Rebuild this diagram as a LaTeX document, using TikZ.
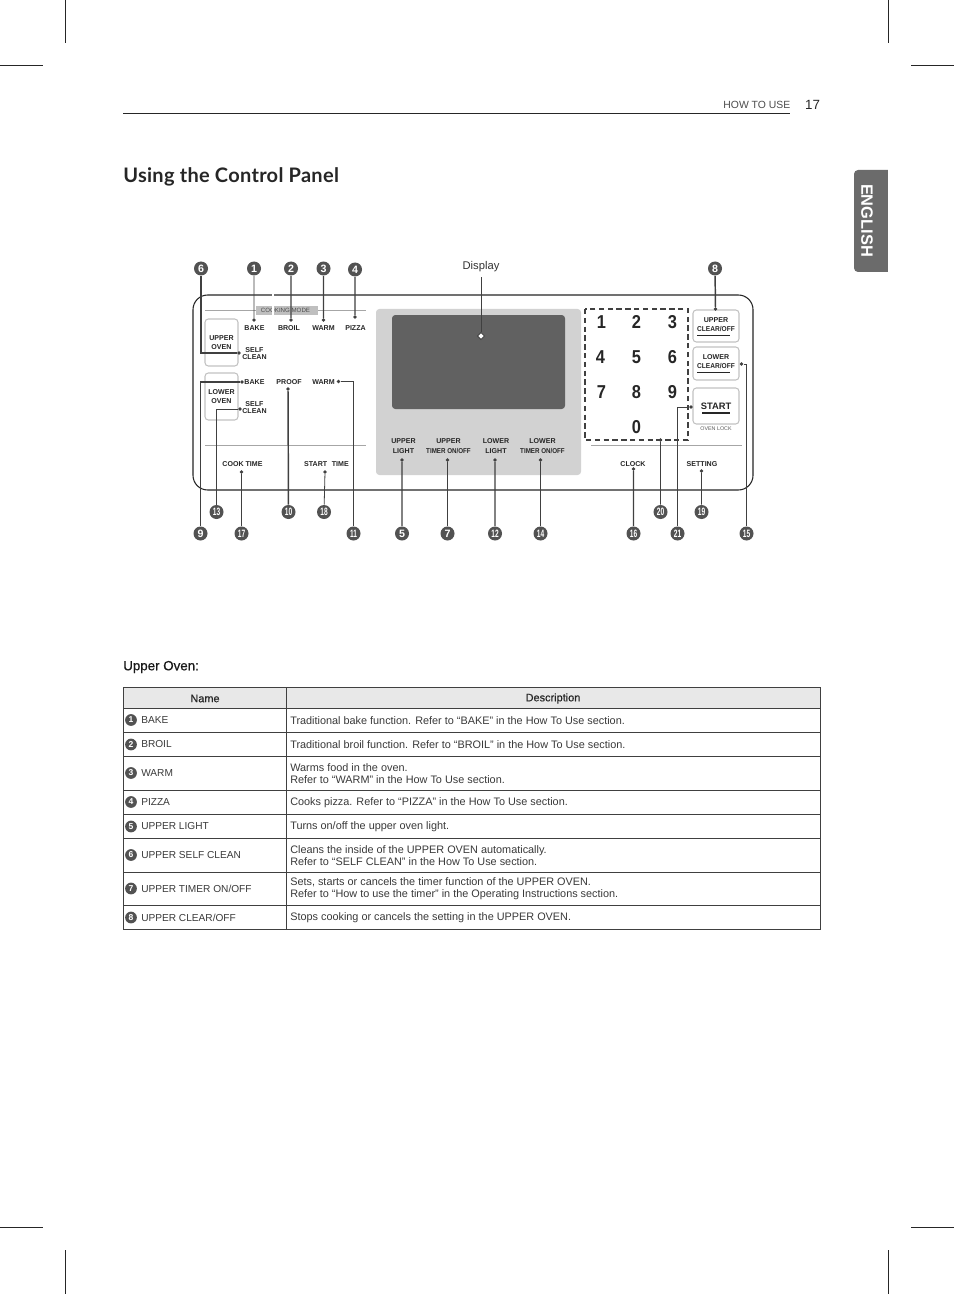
\documentclass[tikz,border=0pt]{standalone}
\usepackage{fontspec}
\setmainfont{Liberation Sans}
\newfontfamily\titlefont[LetterSpace=1.5]{Lato}
\newfontface\fakebold[FakeBold=0.6]{Liberation Sans}
\usetikzlibrary{shapes.geometric}
\definecolor{txt}{HTML}{3A3A3A}
\definecolor{pan}{HTML}{D2D2D2}
\tikzset{
  x=0.75pt,y=-0.75pt,
  crop/.style={line width=0.5pt,black!85},
  num/.style={circle,fill=black!68,text=white,inner sep=0pt,minimum size=10.5pt,font=\fontsize{8}{8}\selectfont\bfseries},
  tnum/.style={circle,fill=black!68,text=white,inner sep=0pt,minimum size=8.8pt,font=\fontsize{6.4}{6.4}\selectfont\bfseries},
  dot/.style={circle,fill=black!75,inner sep=0pt,minimum size=2.8pt},
  hole/.style={diamond,draw=black!75,fill=white,inner sep=0pt,minimum size=5.5pt,line width=0.6pt},
  thin line/.style={draw=black!75,line width=0.6pt},
  thick line/.style={draw=black!75,line width=1.1pt},
  lab/.style={inner sep=0pt,align=center,text=black!85,font=\fontsize{5.3}{7}\selectfont\bfseries},
  tight lab/.style={lab,font=\fontsize{5.3}{5.4}\selectfont\bfseries},
  digit/.style={inner sep=0pt,text=black!85,font=\fontsize{14}{14}\selectfont\bfseries},
  cell/.style={inner sep=0pt,anchor=west,align=left,text=txt,font=\fontsize{7.6}{8.9}\selectfont},
  desc/.style={cell,font=\fontsize{8.15}{8.9}\selectfont},
  head/.style={inner sep=0pt,text=black!85,font=\fakebold\fontsize{8.2}{8}\selectfont},
  btn/.style={draw=black!24,line width=0.8pt,rounded corners=2.5pt,fill=white},
  rule/.style={line width=0.6pt,black!85},
  grid/.style={line width=0.5pt,black!75},
}
\newcommand{\callout}[3]{\node[num] (#1) at (#2) {#3};}
\newcommand{\nn}[1]{\scalebox{0.62}[1]{#1}}
\newcommand{\sm}[1]{{\scalebox{0.88}[1]{#1}}}
\begin{document}
\begin{tikzpicture}
\useasboundingbox (0,0) rectangle (954,1294);
\fill[white] (0,0) rectangle (954,1294);
% crop marks
\draw[crop] (65,0)--(65,43) (888,0)--(888,43) (0,65)--(43,65) (911,65)--(954,65);
\draw[crop] (65,1250)--(65,1294) (888,1250)--(888,1294) (0,1227)--(43,1227) (911,1227)--(954,1227);
% header
\draw[rule] (123,113)--(790,113);
\node[inner sep=0pt,anchor=east,text=black!70,font=\fontsize{7.8}{8}\selectfont] (hd) at (790.5,105) {HOW TO USE};
\node[inner sep=0pt,text=black!85,font=\fontsize{10}{11}\selectfont] (pg) at (812.5,104.5) {17};
\node[inner sep=0pt,anchor=west,text=black!85,font=\titlefont\fontsize{15}{15}\selectfont\bfseries] (title) at (123,176.5) {Using the Control Panel};
% tab
\fill[black!58,rounded corners=3pt] (895,170) -- (854,170) -- (854,272) -- (895,272) -- cycle;
\fill[white] (888,165) rectangle (897,277);
\node[rotate=-90,inner sep=0pt,text=white,font=\fontsize{12.3}{12}\selectfont\bfseries] (eng) at (867,220.5) {ENGLISH};
% panel
\draw[line width=0.8pt,black!85,rounded corners=11pt] (193,295) rectangle (753,490);
\fill[pan,rounded corners=2.5pt] (376,309) rectangle (581,475);
\fill[black!62,rounded corners=2.5pt] (392,315) rectangle (565,409);
\draw[line width=0.5pt,black!35] (205,310)--(366,310) (205,445)--(366,445) (591,445)--(742,445);
\fill[black!25] (256,306) rectangle (318,315);
\node[lab,font=\fontsize{4.6}{5}\selectfont,text=black!70] (cm) at (285.5,310.5) {COOKING MODE};
\fill[white] (271.5,293) rectangle (274,316);
\draw[btn] (205,319) rectangle (238,366);
\draw[btn] (205,373) rectangle (238,420);
\node[lab] (uo) at (221.5,342.5) {UPPER\\OVEN};
\node[lab] (lo) at (221.5,396.5) {LOWER\\OVEN};
\node[lab] (l1) at (254.5,328) {BAKE};
\node[lab] (l2) at (289,328) {BROIL};
\node[lab] (l3) at (323.5,328) {WARM};
\node[lab] (l4) at (355.5,328) {PIZZA};
\node[tight lab] (l5) at (254.5,353.5) {SELF\\CLEAN};
\node[lab] (l6) at (254.5,382) {BAKE};
\node[lab] (l7) at (289,382) {PROOF};
\node[lab] (l8) at (323.5,382) {WARM};
\node[tight lab] (l9) at (254.5,407.5) {SELF\\CLEAN};
\node[lab] (l10) at (242.5,464) {COOK TIME};
\node[lab] (l11) at (326.5,464) {START\hspace{2pt} TIME};
\node[lab] (l12) at (403.5,446) {UPPER\\LIGHT};
\node[lab] (l13) at (448.5,446) {UPPER\\\sm{TIMER ON/OFF}};
\node[lab] (l14) at (496,446) {LOWER\\LIGHT};
\node[lab] (l15) at (542.5,446) {LOWER\\\sm{TIMER ON/OFF}};
\node[lab] (l16) at (633,464) {CLOCK};
\node[lab] (l17) at (702,464) {SETTING};
% keypad
\draw[line width=1pt,black!75,dash pattern=on 4pt off 2.6pt] (585,309) rectangle (688,440);
\foreach \d/\px/\py in {1/601.5/322,2/636.5/322,3/672.5/322,4/600.5/357,5/636.5/357,6/672.5/357,7/601.5/392,8/636.5/392,9/672.5/392,0/636.5/427}{
  \node[digit] (k\d) at (\px,\py) {\scalebox{0.88}[1]{\d}};
}
% buttons
\draw[btn] (693,310) rectangle (739,342);
\draw[btn] (693,347) rectangle (739,380);
\draw[btn] (693,388) rectangle (739,424);
\node[lab,font=\fontsize{5.3}{6.7}\selectfont\bfseries] (b1) at (716,324.5) {UPPER\\\scalebox{0.93}[1]{CLEAR/OFF}};
\node[lab,font=\fontsize{5.3}{6.7}\selectfont\bfseries] (b2) at (716,361.5) {LOWER\\\scalebox{0.93}[1]{CLEAR/OFF}};
\node[lab,font=\fontsize{7}{7}\selectfont\bfseries] (b3) at (716,406) {START};
\node[lab,font=\fontsize{4}{4}\selectfont,text=black!65] (b4) at (716,429) {OVEN LOCK};
\draw[line width=0.7pt,black!85] (697,335)--(730,335) (697,372)--(730,372);
\draw[line width=1.1pt,black!85] (702,413)--(730,413);
% callouts
\callout{c6}{201,268.5}{6}
\callout{c1}{254,268.5}{1}
\callout{c2}{291,268.5}{2}
\callout{c3}{323.5,268.5}{3}
\callout{c4}{355,269.5}{4}
\callout{c8}{715,268.5}{8}
\callout{c9}{200.5,533.5}{9}
\callout{c13}{216.5,512}{\nn{13}}
\callout{c17}{241.5,533.5}{\nn{17}}
\callout{c10}{288.5,512}{\nn{10}}
\callout{c18}{324,512}{\nn{18}}
\callout{c11}{353.5,533.5}{\nn{11}}
\callout{c5}{402,533.5}{5}
\callout{c7}{447.5,533.5}{7}
\callout{c12}{495,533.5}{\nn{12}}
\callout{c14}{540.5,533.5}{\nn{14}}
\callout{c16}{633.5,533.5}{\nn{16}}
\callout{c20}{660.5,512}{\nn{20}}
\callout{c21}{677.5,533.5}{\nn{21}}
\callout{c19}{701.5,512}{\nn{19}}
\callout{c15}{746.5,533.5}{\nn{15}}
\node[inner sep=0pt,text=black!80,font=\fontsize{8.4}{9}\selectfont] (disp) at (481,267) {Display};
% targets
\node[hole] (tD) at (481,336) {};
\node[dot] (t1) at (254,320) {};
\node[dot] (t2) at (291,320) {};
\node[dot] (t3) at (323.5,320) {};
\node[dot] (t4) at (355,317) {};
\node[dot] (t6) at (239,353) {};
\node[dot] (t8) at (715.5,309) {};
\node[dot] (t9) at (242,382) {};
\node[dot] (t13) at (240,409) {};
\node[dot] (t17) at (241.5,472) {};
\node[dot] (t10) at (288,389) {};
\node[dot] (t18) at (325,472) {};
\node[dot] (t11) at (338.5,381.5) {};
\node[dot] (t5) at (402,460) {};
\node[dot] (t7) at (447.5,460) {};
\node[dot] (t12) at (495,460) {};
\node[dot] (t14) at (540.5,460) {};
\node[dot] (t16) at (633.5,469) {};
\node[dot] (t20) at (660.5,440) {};
\node[dot] (t21) at (691,407) {};
\node[dot] (t19) at (701.5,471) {};
\node[dot] (t15) at (741.5,364) {};
% connectors
\draw[thin line] (disp.south -| tD) ++(0,5) -- (tD);
\draw[thin line] (c1)--(t1) (c17)--(t17) (c18)--(t18) (c7)--(t7) (c14)--(t14) (c20)--(t20) (c19)--(t19);
\draw[thick line] (c2)--(t2) (c3)--(t3) (c4)--(t4) (c8)--(t8) (c10)--(t10) (c5)--(t5) (c12)--(t12) (c16)--(t16);
\draw[thick line] (c6) |- (t6);
\draw[thick line] (c9) |- (t9);
\draw[thin line] (c13) |- (t13);
\draw[thick line] (c11) |- (t11);
\draw[thin line] (c21) |- (t21);
\draw[thin line] (c15) |- (t15);
% table
\node[inner sep=0pt,anchor=west,text=black!90,font=\fakebold\fontsize{10}{10}\selectfont] (sub) at (123,667) {Upper Oven:};
\fill[black!9] (123,687) rectangle (820,708);
\draw[grid] (123,687) rectangle (820,929.5);
\draw[grid] (286.5,687)--(286.5,929.5);
\foreach \yy in {708,732.5,756.5,790,814.5,838.5,872,905.5}{\draw[grid] (123,\yy)--(820,\yy);}
\node[head] (hn) at (205,698.5) {Name};
\node[head] (hd2) at (553,698.5) {Description};
\foreach \n/\yy/\nm in {1/720/{BAKE},2/744.5/{BROIL},3/773/{WARM},4/802/{PIZZA},5/826.5/{UPPER LIGHT},6/855/{UPPER SELF CLEAN},7/888.5/{UPPER TIMER ON/OFF},8/917.5/{UPPER CLEAR/OFF}}{
  \node[tnum] (r\n) at (131,\yy) {\n};
  \node[cell] (nm\n) at (141,\yy) {\nm};
}
\node[desc] (d1) at (290,720.3) {Traditional bake function. Refer to “BAKE” in the How To Use section.};
\node[desc] (d2) at (290,744.5) {Traditional broil function. Refer to “BROIL” in the How To Use section.};
\node[desc] (d3) at (290,773.5) {Warms food in the oven.\\Refer to “WARM” in the How To Use section.};
\node[desc] (d4) at (290,802.3) {Cooks pizza. Refer to “PIZZA” in the How To Use section.};
\node[desc] (d5) at (290,826.5) {Turns on/off the upper oven light.};
\node[desc] (d6) at (290,855.5) {Cleans the inside of the UPPER OVEN automatically.\\Refer to “SELF CLEAN” in the How To Use section.};
\node[desc] (d7) at (290,889) {Sets, starts or cancels the timer function of the UPPER OVEN.\\Refer to “How to use the timer” in the Operating Instructions section.};
\node[desc] (d8) at (290,917.5) {Stops cooking or cancels the setting in the UPPER OVEN.};
\end{tikzpicture}
\end{document}
